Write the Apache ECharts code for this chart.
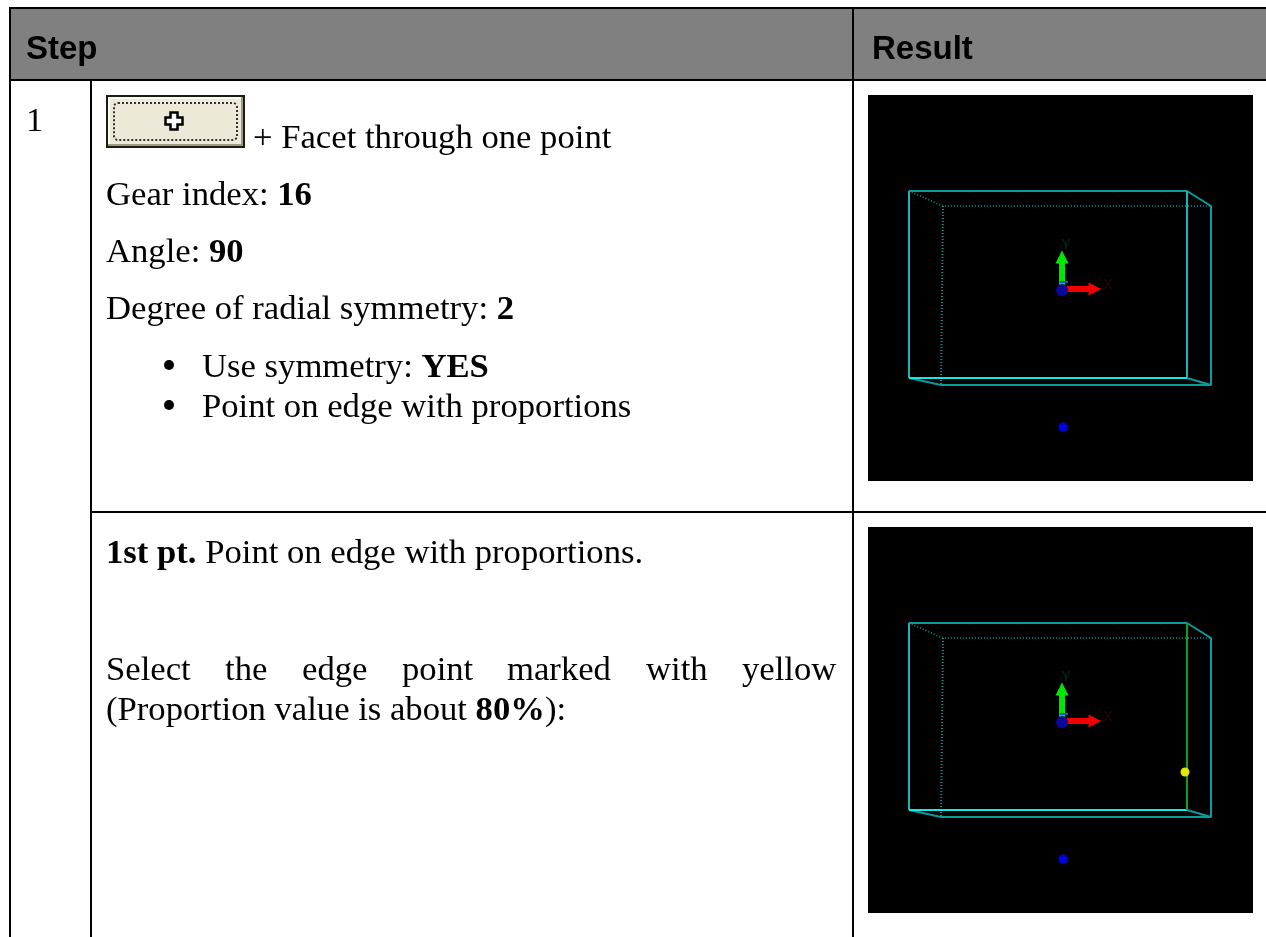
<!DOCTYPE html>
<html>
<head>
<meta charset="utf-8">
<title>Step / Result</title>
<style>
  html, body { margin: 0; padding: 0; background: #fff; }
  #main { width: 1266px; height: 937px; }
</style>
<script src="https://cdn.jsdelivr.net/npm/echarts@6/dist/echarts.min.js"></script>
</head>
<body>
<div id="main"></div>
<script>
// table text
var headers = ['Step', 'Result'];
var stepNumber = '1';
var options1 = ['Gear index: ', '16', 'Angle: ', '90', 'Degree of radial symmetry: ', '2'];
var bullets = [['Use symmetry: ', 'YES'], ['Point on edge with proportions', '']];
var justifiedWords = ['Select', 'the', 'edge', 'point', 'marked', 'with', 'yellow'];

// wireframe corners, in pixels of the 385 x 386 viewport
var frontTop = [[41, 96], [319, 96]];
var frontSides = [[41, 96], [41, 283]];
var frontRight = [[319, 96], [319, 283]];
var frontBottom = [[41, 283], [319, 283]];
var backSolid = [[319, 96], [343, 111], [343, 290], [73, 290], [41, 283]];
var cornerSolid = [[319, 283], [343, 290]];
var backDotted = [[41, 96], [75, 111], [343, 111]];
var backDottedLeft = [[75, 111], [73, 290]];
var axisY = [[194, 194], [194, 162]];
var axisX = [[194, 194], [227, 194]];
var zTick = [[192, 187], [200, 187]];
var originPoint = [[194, 195]];
var bluePoint = [[195, 332]];
var selectedEdge = [[319, 96], [319, 283]];
var yellowPoint = [[317, 245]];
var yName = [{ name: 'Y', value: [198, 150] }];
var xName = [{ name: 'X', value: [240, 190] }];

var chart = echarts.init(document.getElementById('main'));
var SERIF = '"Liberation Serif", "Times New Roman", serif';
var SANS = '"Liberation Sans", Arial, sans-serif';
var FS = 34.67;

function text(x, y, str, bold, family, size) {
  return {
    type: 'text',
    x: x,
    y: y,
    silent: true,
    style: {
      text: str,
      fill: '#000',
      font: (bold ? 'bold ' : '') + (size || FS) + 'px ' + (family || SERIF),
      verticalAlign: 'middle'
    }
  };
}

// runs of normal and bold text on one baseline, * marks the bold ones
function mixed(x, y, runs) {
  var s = runs.map(function (r) {
    return r.charAt(0) === '*' ? '{b|' + r.slice(1) + '}' : '{n|' + r + '}';
  }).join('');
  return {
    type: 'text',
    x: x,
    y: y,
    silent: true,
    style: {
      text: s,
      verticalAlign: 'middle',
      rich: {
        n: { font: FS + 'px ' + SERIF, fill: '#000' },
        b: { font: 'bold ' + FS + 'px ' + SERIF, fill: '#000' }
      }
    }
  };
}

function rule(x1, y1, x2, y2, w) {
  return { type: 'line', silent: true, shape: { x1: x1, y1: y1, x2: x2, y2: y2 }, style: { stroke: '#000', lineWidth: w || 2 } };
}

function button(x, y, w, h) {
  var cx = x + 68, cy = y + 26, a = 3.5, l = 8.5;
  return [
    { type: 'rect', shape: { x: x, y: y, width: w, height: h }, style: { fill: '#1c1c12' } },
    { type: 'rect', shape: { x: x + 2, y: y + 2, width: w - 4, height: h - 4 }, style: { fill: '#9d9a86' } },
    { type: 'rect', shape: { x: x + 2, y: y + 2, width: w - 6, height: h - 6 }, style: { fill: '#fbfaf2' } },
    { type: 'rect', shape: { x: x + 4, y: y + 4, width: w - 8, height: h - 8 }, style: { fill: '#ece9d8' } },
    { type: 'rect', shape: { x: x + 8, y: y + 8, width: w - 16, height: h - 16, r: 4 }, style: { fill: 'none', stroke: '#333', lineWidth: 2, lineDash: [2, 2] } },
    { type: 'polygon', shape: { points: [[cx - a, cy - l], [cx + a, cy - l], [cx + a, cy - a], [cx + l, cy - a], [cx + l, cy + a], [cx + a, cy + a], [cx + a, cy + l], [cx - a, cy + l], [cx - a, cy + a], [cx - l, cy + a], [cx - l, cy - a], [cx - a, cy - a]] }, style: { fill: '#fff', stroke: '#000', lineWidth: 2.5 } }
  ];
}

// one set of line and point series per viewport
function viewportSeries(i, withSelection) {
  function line(data, color, width, dash, z) {
    return {
      type: 'line', xAxisIndex: i, yAxisIndex: i, data: data, symbol: 'none', silent: true, z: z || 3,
      lineStyle: { color: color, width: width, type: dash || 'solid' }, animation: false
    };
  }
  function dot(data, color, r, z) {
    return {
      type: 'scatter', xAxisIndex: i, yAxisIndex: i, data: data, symbolSize: r, silent: true, z: z || 6,
      itemStyle: { color: color, opacity: 1 }, animation: false
    };
  }
  function axisArrow(data, color) {
    return {
      type: 'lines', coordinateSystem: 'cartesian2d', xAxisIndex: i, yAxisIndex: i, polyline: false, silent: true, z: 4,
      data: [{ coords: data }],
      symbol: ['none', 'triangle'], symbolSize: 13,
      lineStyle: { color: color, width: 6, opacity: 1 }, animation: false
    };
  }
  function letter(data, color) {
    return {
      type: 'scatter', xAxisIndex: i, yAxisIndex: i, data: data, symbolSize: 0, silent: true, z: 5,
      label: { show: true, position: 'inside', formatter: '{b}', color: color, fontSize: 14, fontFamily: SANS },
      animation: false
    };
  }
  var list = [
    line(backDotted, '#0b7f7f', 2, [1, 2]),
    line(backDottedLeft, '#0b8f8f', 2, [1, 2]),
    line(backSolid, '#0a9c9c', 2),
    line(frontTop, '#0a9c9c', 2),
    line(frontSides, '#18b4b4', 2),
    line(frontRight, '#18b4b4', 2),
    line(frontBottom, '#10eaea', 2),
    line(cornerSolid, '#0a9c9c', 2),
    axisArrow(axisY, '#00e600'),
    axisArrow(axisX, '#f00000'),
    line(zTick, '#0060b0', 2, null, 5),
    dot(originPoint, '#08089a', 12),
    dot(bluePoint, '#0000e6', 9),
    letter(yName, '#0c3a0c'),
    letter(xName, '#3a0808')
  ];
  if (withSelection) {
    list.push(line(selectedEdge, '#12a012', 2, null, 5));
    list.push(dot(yellowPoint, '#e6e600', 9, 7));
  }
  return list;
}

var graphic = [];
// header band
graphic.push({ type: 'rect', silent: true, shape: { x: 10, y: 8, width: 1256, height: 72 }, style: { fill: '#808080' } });
// rules
graphic.push(rule(10, 8, 1266, 8));
graphic.push(rule(10, 7, 10, 937));
graphic.push(rule(10, 80, 1266, 80));
graphic.push(rule(91, 80, 91, 937));
graphic.push(rule(853, 7, 853, 937));
graphic.push(rule(91, 512, 1266, 512));

graphic.push(text(26, 50, headers[0], true, SANS, 33));
graphic.push(text(872, 50, headers[1], true, SANS, 33));
graphic.push(text(26, 122, stepNumber));

graphic = graphic.concat(button(106, 95, 139, 53));
graphic.push(text(253, 139, '+ Facet through one point'));
graphic.push(mixed(106, 196, [options1[0], '*' + options1[1]]));
graphic.push(mixed(106, 253, [options1[2], '*' + options1[3]]));
graphic.push(mixed(106, 310, [options1[4], '*' + options1[5]]));
graphic.push({ type: 'circle', silent: true, shape: { cx: 169, cy: 365, r: 5 }, style: { fill: '#000' } });
graphic.push({ type: 'circle', silent: true, shape: { cx: 169, cy: 405, r: 5 }, style: { fill: '#000' } });
graphic.push(mixed(202, 368, [bullets[0][0], '*' + bullets[0][1]]));
graphic.push(text(202, 408, bullets[1][0]));

graphic.push(mixed(106, 554, ['*1st pt.', ' Point on edge with proportions.']));
var wordX = [106, 225, 302, 402, 507, 646, 742];
justifiedWords.forEach(function (w, i) { graphic.push(text(wordX[i], 671, w)); });
graphic.push(mixed(106, 711, ['(Proportion value is about ', '*80%', '):']));

var option = {
  animation: false,
  backgroundColor: '#fff',
  grid: [
    { left: 868, top: 95, width: 385, height: 386, backgroundColor: '#000', show: true, borderWidth: 0 },
    { left: 868, top: 527, width: 385, height: 386, backgroundColor: '#000', show: true, borderWidth: 0 }
  ],
  xAxis: [0, 1].map(function (i) {
    return { type: 'value', gridIndex: i, min: 0, max: 385, show: false };
  }),
  yAxis: [0, 1].map(function (i) {
    return { type: 'value', gridIndex: i, min: 0, max: 386, inverse: true, show: false };
  }),
  graphic: graphic,
  series: viewportSeries(0, false).concat(viewportSeries(1, true))
};
chart.setOption(option);
</script>
</body>
</html>
